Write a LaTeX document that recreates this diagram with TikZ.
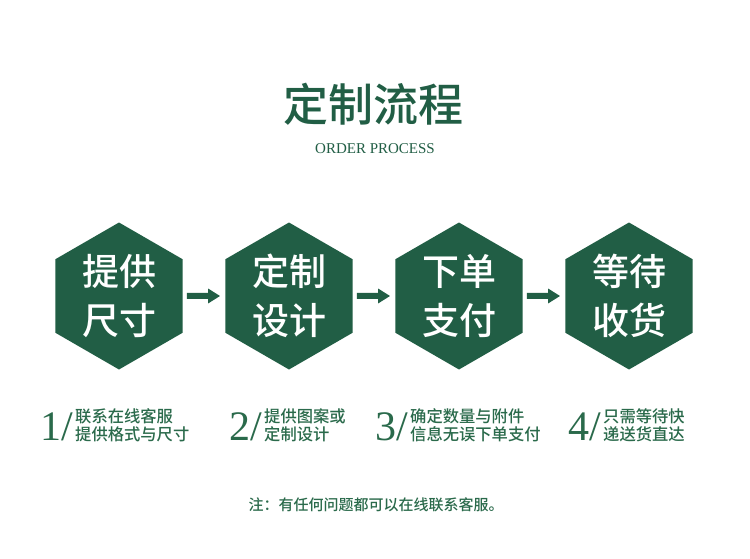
\documentclass[tikz,border=0pt]{standalone}
\usepackage{fontspec}
\setmainfont{Noto Sans CJK SC}
\newfontfamily\numfont{Liberation Serif}
\newfontfamily\cjkmed{Noto Sans CJK SC Medium}
\usetikzlibrary{shapes.geometric,arrows.meta}
\definecolor{dgreen}{HTML}{215E45}
\definecolor{tgreen}{HTML}{2A6A4B}
\tikzset{
  hexbox/.style={regular polygon, regular polygon sides=6, shape border rotate=30,
    minimum size=147pt, inner sep=0pt, fill=dgreen, draw=none, text=white,
    font=\cjkmed\fontsize{37}{49}\selectfont, align=center},
  flowarrow/.style={draw=dgreen, line width=6pt, -{Triangle[length=12pt,width=14pt]},
    shorten <=4pt, shorten >=5pt},
  stepnum/.style={anchor=base east, text=tgreen, inner sep=0pt, font=\numfont\fontsize{42}{42}\selectfont},
  steptext/.style={anchor=west, text=tgreen, inner sep=0pt, align=left,
    font=\cjkmed\fontsize{16.3}{18}\selectfont},
}
\begin{document}
\begin{tikzpicture}[x=1pt,y=-1pt]
\useasboundingbox (0,0) rectangle (750,559);
\fill[white] (0,0) rectangle (750,559);
\node[text=dgreen, font=\cjkmed\fontsize{45}{45}\selectfont] (title) at (373,104) {定制流程};
\node[text=dgreen, font=\numfont\fontsize{15}{15}\selectfont] (sub) at (375,149) {ORDER PROCESS};

\node[hexbox] (h1) at (119,296) {提供\\尺寸};
\node[hexbox] (h2) at (289,296) {定制\\设计};
\node[hexbox] (h3) at (459,296) {下单\\支付};
\node[hexbox] (h4) at (629,296) {等待\\收货};

\draw[flowarrow] (h1.east) -- (h2.west);
\draw[flowarrow] (h2.east) -- (h3.west);
\draw[flowarrow] (h3.east) -- (h4.west);

\node[stepnum] (n1) at (73,440) {1/};
\node[steptext] (t1) at (75,425) {联系在线客服\\提供格式与尺寸};
\node[stepnum] (n2) at (262,440) {2/};
\node[steptext] (t2) at (264,425) {提供图案或\\定制设计};
\node[stepnum] (n3) at (408,440) {3/};
\node[steptext] (t3) at (410,425) {确定数量与附件\\信息无误下单支付};
\node[stepnum] (n4) at (601,440) {4/};
\node[steptext] (t4) at (603,425) {只需等待快\\递送货直达};

\node[text=tgreen, font=\cjkmed\fontsize{15}{15}\selectfont] (note) at (376,505) {注：有任何问题都可以在线联系客服。};
\end{tikzpicture}
\end{document}
